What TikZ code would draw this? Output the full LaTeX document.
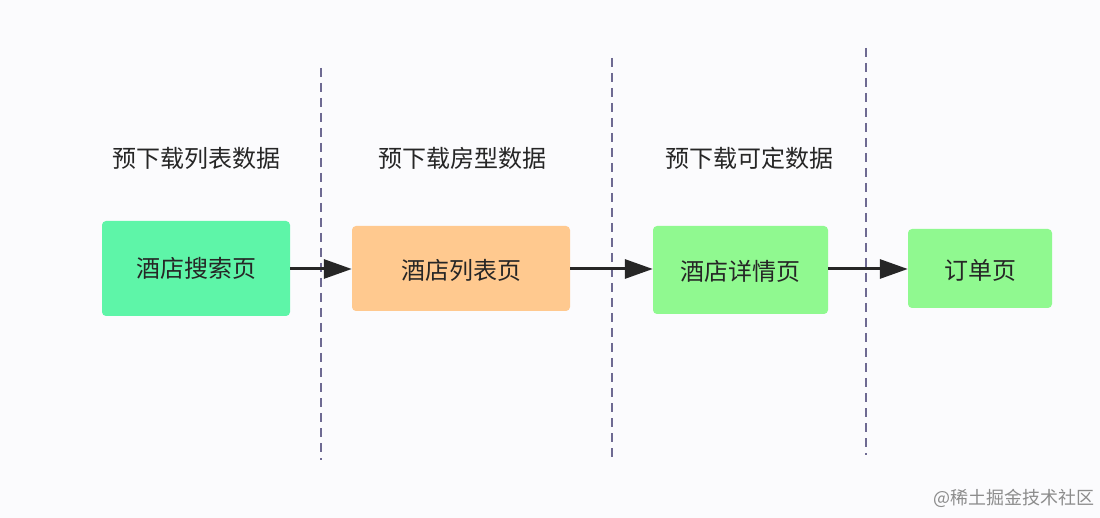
\documentclass[tikz,border=0pt]{standalone}
\usepackage{fontspec}
\newfontfamily\cjk{Noto Sans CJK SC}
\usetikzlibrary{arrows.meta}
\definecolor{bg}{HTML}{FBFBFD}
\definecolor{mint}{HTML}{5EF5A8}
\definecolor{orng}{HTML}{FFC98F}
\definecolor{lgreen}{HTML}{90F990}
\definecolor{dline}{HTML}{6E6A92}
\tikzset{x=1pt,y=-1pt,
 pagebox/.style={rounded corners=4pt,draw=none,font=\cjk\fontsize{24}{28}\selectfont,text=black!85},
 sep/.style={dashed,dash pattern=on 9pt off 6pt,draw=dline,line width=1.5pt},
 flow/.style={line width=3pt,draw=black!85,-{Triangle[length=28pt,width=19pt]}},
 lab/.style={font=\cjk\fontsize{24}{28}\selectfont,text=black!85}}
\begin{document}
\begin{tikzpicture}
\fill[bg] (0,0) rectangle (1100,518);
\useasboundingbox (0,0) rectangle (1100,518);
\draw[sep] (321,68) -- (321,460);
\draw[sep] (612,58) -- (612,462);
\draw[sep] (866,48) -- (866,455);
\node[lab] (l1) at (196,158) {预下载列表数据};
\node[lab] (l2) at (462,158) {预下载房型数据};
\node[lab] (l3) at (749,158) {预下载可定数据};
\fill[mint,rounded corners=4pt] (102,221) rectangle (290,316);
\node[pagebox] (a) at (196,268.5) [minimum width=188pt,minimum height=95pt] {酒店搜索页};
\fill[orng,rounded corners=4pt] (352,226) rectangle (570,311);
\node[pagebox] (b) at (461,270) [minimum width=218pt,minimum height=85pt] {酒店列表页};
\fill[lgreen,rounded corners=4pt] (653,226) rectangle (828,314);
\node[pagebox] (c) at (740.5,271) [minimum width=175pt,minimum height=88pt] {酒店详情页};
\fill[lgreen,rounded corners=4pt] (908,229) rectangle (1052,308);
\node[pagebox] (d) at (980,270) [minimum width=144pt,minimum height=79pt] {订单页};
\draw[flow] (a.east|-0,269) -- (b.west|-0,269);
\draw[flow] (b.east|-0,269) -- (c.west|-0,269);
\draw[flow] (c.east|-0,269) -- (d.west|-0,269);
\node[font=\cjk\fontsize{18}{20}\selectfont,text=black!45] (w) at (1014,498) {@稀土掘金技术社区};
\end{tikzpicture}
\end{document}
